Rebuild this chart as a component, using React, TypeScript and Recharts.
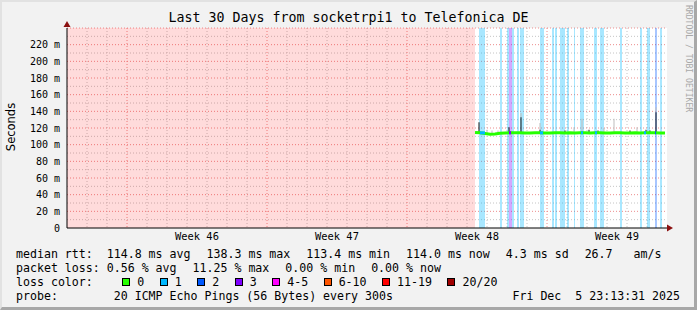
import { ComposedChart, Line, XAxis, YAxis, CartesianGrid, ReferenceArea, ReferenceDot } from 'recharts'

const MONO = '"DejaVu Sans Mono", monospace'

// x is measured in days from the left edge of the 30 day window
const weekLabelDays = [6.5, 13.5, 20.5, 27.5]
const weekLabels = ['Week 46', 'Week 47', 'Week 48', 'Week 49']
const weekStartDays = [3, 10, 17, 24]
const dayLines = [1, 2, 4, 5, 6, 7, 8, 9, 11, 12, 13, 14, 15, 16, 18, 19, 20, 21, 22, 23, 25, 26, 27, 28, 29]
const yTicks = [0, 20, 40, 60, 80, 100, 120, 140, 160, 180, 200, 220]
const yMajor = [20, 40, 60, 80, 100, 120, 140, 160, 180, 200, 220, 240]
const yMinor = [10, 30, 50, 70, 90, 110, 130, 150, 170, 190, 210, 230]

// no data before this day
const unknownUntil = 20.4

// median rtt in ms
const medianT = [20.4, 20.65, 20.9, 21.15, 21.4, 21.65, 21.9, 22.15, 22.4, 22.65, 22.9, 23.15, 23.4, 23.65, 23.9, 24.15, 24.4, 24.65, 24.9, 25.15, 25.4, 25.65, 25.9, 26.15, 26.4, 26.65, 26.9, 27.15, 27.4, 27.65, 27.9, 28.15, 28.4, 28.65, 28.9, 29.15, 29.4, 29.65, 29.9]
const medianV = [114.6, 114.2, 113.4, 112.6, 112.9, 113.6, 114.1, 114.3, 114.2, 114.4, 114.1, 114.0, 114.2, 114.3, 114.1, 114.0, 114.2, 114.3, 114.1, 114.2, 114.0, 114.3, 114.2, 114.1, 114.3, 114.2, 114.0, 114.1, 114.2, 114.3, 114.1, 114.0, 114.2, 114.1, 114.3, 114.2, 114.4, 114.1, 114.0]

// periods with packet loss: start day, end day, lost pings
const lossBands: [number, number, number][] = [
  [20.6, 20.9, 1], [21.65, 21.75, 1], [22.0, 22.1, 1], [22.1, 22.25, 3], [22.25, 22.35, 1],
  [22.5, 22.6, 1], [22.65, 22.85, 1], [23.65, 23.85, 1], [24.25, 24.35, 1], [24.4, 24.5, 1],
  [24.65, 24.9, 1], [25.0, 25.1, 1], [25.35, 25.4, 1], [25.65, 25.85, 1], [26.35, 26.5, 1],
  [26.65, 26.85, 1], [27.65, 27.75, 1], [28.65, 28.75, 1], [29.0, 29.15, 1], [29.4, 29.5, 2],
  [29.65, 29.75, 1],
]

// where the median line itself takes the loss colour: start day, end day, lost pings
const lossMarks: [number, number, number][] = [
  [20.65, 20.9, 1], [22.1, 22.2, 3], [23.65, 23.8, 1], [25.7, 25.8, 1], [26.4, 26.5, 1],
  [28.85, 28.95, 1], [29.4, 29.45, 2],
]

// smoke: day, low ms, high ms
const darkSmoke: [number, number, number][] = [
  [20.55, 114, 127], [22.05, 115, 121], [22.65, 114, 133], [29.4, 114, 139],
  [23.6, 114, 118], [24.85, 114, 117], [26.05, 114, 118], [26.5, 114, 117],
  [28.1, 114, 117], [28.9, 114, 118], [29.1, 114, 117],
]
const lightSmoke: [number, number, number][] = [
  [20.95, 114, 118], [21.2, 113, 117], [21.5, 114, 117], [22.65, 133, 138], [23.6, 118, 126],
  [25.3, 114, 121], [25.7, 114, 131], [26.8, 114, 120], [27.3, 114, 131], [28.45, 114, 121],
  [29.4, 139, 145],
]

const lossLabels = ['0', '1', '2', '3', '4-5', '6-10', '11-19', '20/20']
const lossColors = ['#26ff00', '#00b8ff', '#0059ff', '#7e00ff', '#ff00ff', '#ff5500', '#ff0000', '#a00000']

const rttStats = ['median rtt:  114.8 ms avg', '138.3 ms max', '113.4 ms min', '114.0 ms now', '4.3 ms sd', '26.7   am/s']
const lossStats = ['packet loss: 0.56 % avg', '11.25 % max', '0.00 % min', '0.00 % now']
const probeText = 'probe:        20 ICMP Echo Pings (56 Bytes) every 300s'
const stampText = 'Fri Dec  5 23:13:31 2025'

const lossColor = (n: number) => (n >= 3 ? lossColors[3] : lossColors[n])

const rowStyle = {
  position: 'absolute' as const,
  left: 16,
  display: 'flex',
  columnGap: 16,
  whiteSpace: 'pre' as const,
  fontFamily: MONO,
  fontSize: 11.6,
  lineHeight: '14px',
}

export default function App() {
  const medianData = medianT.map((t, i) => ({ t, v: medianV[i] }))

  return (
    <div style={{ position: 'absolute', left: 0, top: 0, width: 697, height: 310, background: '#f2f2f2', color: '#000', overflow: 'hidden' }}>
      <div style={{ position: 'absolute', left: 0, right: 0, top: 10, textAlign: 'center', fontFamily: MONO, fontSize: 13.3, lineHeight: '16px' }}>
        Last 30 Days from socketrpi1 to Telefonica DE
      </div>
      <div style={{ position: 'absolute', left: 684, top: 5, writingMode: 'vertical-rl', fontFamily: MONO, fontSize: 8.1, color: '#a8a8a8', lineHeight: '9px' }}>
        RRDTOOL / TOBI OETIKER
      </div>
      <div style={{ position: 'absolute', left: 11, top: 127, width: 0, height: 0 }}>
        <div style={{ position: 'absolute', transform: 'translate(-50%, -50%) rotate(-90deg)', fontFamily: '"DejaVu Sans", sans-serif', fontSize: 11.5, whiteSpace: 'nowrap' }}>
          Seconds
        </div>
      </div>

      <div style={{ position: 'absolute', left: 0, top: 0 }}>
        <ComposedChart width={697} height={310} margin={{ top: 28, right: 30, bottom: 62, left: 17 }}>
          <CartesianGrid horizontal={false} vertical={false} fill="#ffffff" />
          <ReferenceArea x1={0} x2={unknownUntil} y1={0} y2={240} fill="#ff0000" fillOpacity={0.14} stroke="none" ifOverflow="hidden" />
          {lossBands.map(([a, b, n], i) => (
            <ReferenceArea key={`band-${i}`} x1={a} x2={b} y1={0} y2={240} fill={lossColor(n)} fillOpacity={0.34} stroke="none" ifOverflow="hidden" />
          ))}
          <CartesianGrid horizontalValues={yMinor} verticalValues={dayLines} stroke="#c4c4c4" strokeDasharray="1 2" />
          <CartesianGrid horizontalValues={yMajor} verticalValues={weekStartDays} stroke="#ec8c8c" strokeDasharray="1 2" />
          <XAxis
            dataKey="t"
            type="number"
            domain={[0, 30]}
            ticks={weekLabelDays}
            interval={0}
            tickFormatter={(v) => weekLabels[weekLabelDays.indexOf(v)] ?? ''}
            tick={{ fontFamily: MONO, fontSize: 10.4, fill: '#000' }}
            tickLine={false}
            tickSize={0}
            tickMargin={5}
            height={20}
            axisLine={{ stroke: '#000' }}
            allowDataOverflow
          />
          <YAxis
            type="number"
            domain={[0, 240]}
            ticks={yTicks}
            interval={0}
            tickFormatter={(v) => (v === 0 ? '0' : `${v} m`)}
            tick={{ fontFamily: MONO, fontSize: 10, fill: '#000' }}
            tickLine={false}
            tickSize={0}
            tickMargin={7}
            width={50}
            axisLine={{ stroke: '#000' }}
            allowDataOverflow
          />
          {lightSmoke.map(([t, lo, hi], i) => (
            <ReferenceArea key={`ls-${i}`} x1={t} x2={t + 0.1} y1={lo} y2={hi} fill="#bdbdbd" stroke="none" />
          ))}
          {darkSmoke.map(([t, lo, hi], i) => (
            <ReferenceArea key={`ds-${i}`} x1={t} x2={t + 0.1} y1={lo} y2={hi} fill="#111111" stroke="none" />
          ))}
          <Line data={medianData} dataKey="v" stroke={lossColors[0]} strokeWidth={3} dot={false} isAnimationActive={false} />
          {lossMarks.map(([a, b, n], i) => (
            <Line
              key={`lm-${i}`}
              data={[{ t: a, v: 114.2 }, { t: b, v: 114.2 }]}
              dataKey="v"
              stroke={lossColor(n)}
              strokeWidth={3}
              dot={false}
              isAnimationActive={false}
            />
          ))}
          <ReferenceDot
            x={30}
            y={0}
            ifOverflow="visible"
            shape={(p: any) => <path d={`M${p.cx} ${p.cy - 3.5}L${p.cx + 6} ${p.cy}L${p.cx} ${p.cy + 3.5}Z`} fill="#8b1010" />}
          />
          <ReferenceDot
            x={0}
            y={240}
            ifOverflow="visible"
            shape={(p: any) => <path d={`M${p.cx - 3.5} ${p.cy - 1}L${p.cx} ${p.cy - 7}L${p.cx + 3.5} ${p.cy - 1}Z`} fill="#8b1010" />}
          />
        </ComposedChart>
      </div>

      <div style={{ ...rowStyle, top: 247 }}>
        {rttStats.map((s) => <span key={s}>{s}</span>)}
      </div>
      <div style={{ ...rowStyle, top: 261 }}>
        {lossStats.map((s) => <span key={s}>{s}</span>)}
      </div>
      <div style={{ ...rowStyle, top: 275, columnGap: 15.5 }}>
        <span>{'loss color:  '}</span>
        {lossLabels.map((l, i) => (
          <span key={l} style={{ display: 'inline-flex', alignItems: 'center' }}>
            <span style={{ display: 'inline-block', width: 8, height: 8, boxSizing: 'border-box', border: '1px solid #000', background: lossColors[i], marginRight: 7 }} />
            {l}
          </span>
        ))}
      </div>
      <div style={{ ...rowStyle, top: 289, columnGap: 0, right: 17, justifyContent: 'space-between' }}>
        <span>{probeText}</span>
        <span>{stampText}</span>
      </div>

      <div style={{ position: 'absolute', inset: 0, boxSizing: 'border-box', borderTop: '2px solid #e2e2e2', borderLeft: '2px solid #e2e2e2', borderRight: '3px solid #a8a8a8', borderBottom: '3px solid #a8a8a8', pointerEvents: 'none' }} />
    </div>
  )
}
